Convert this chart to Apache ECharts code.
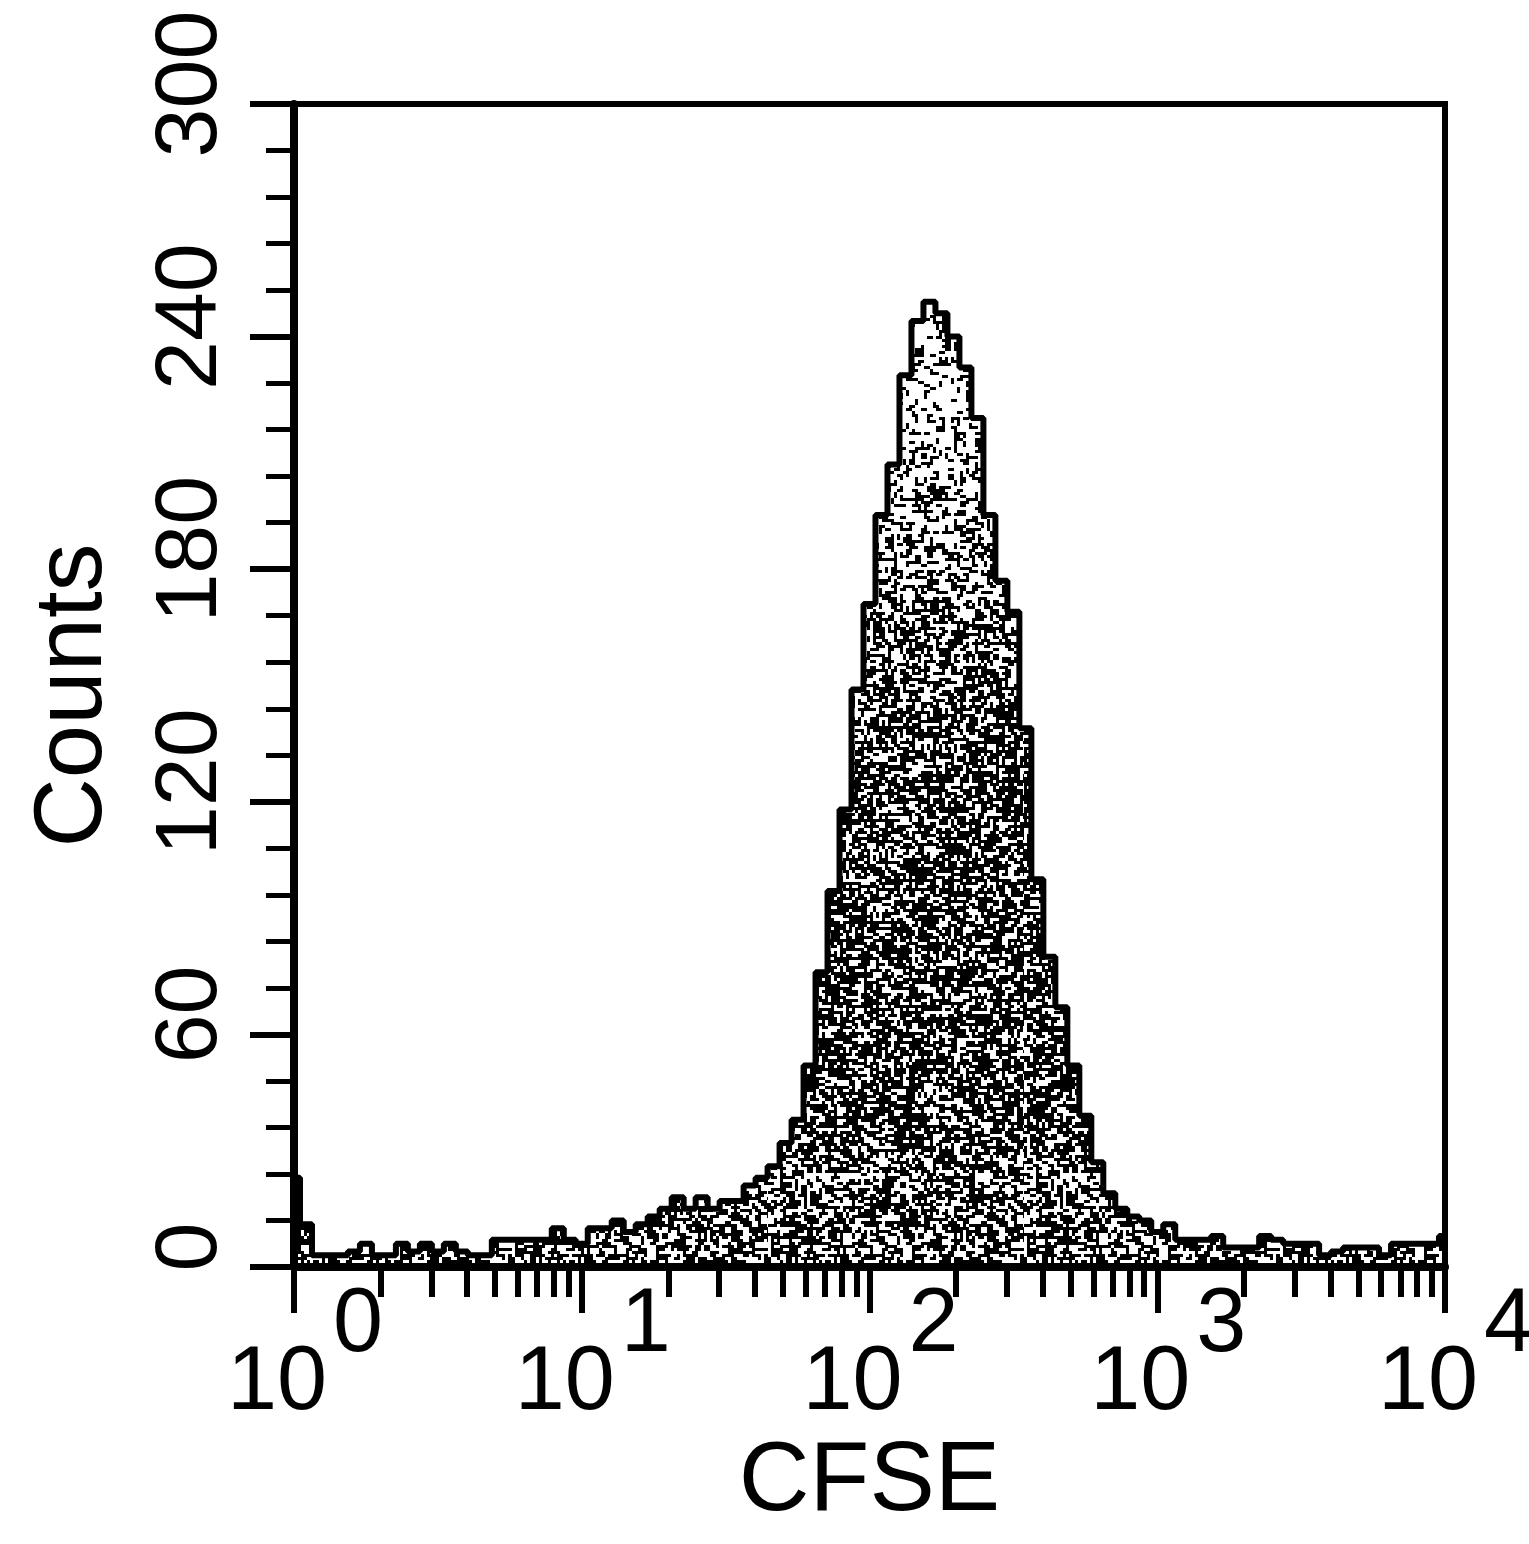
<!DOCTYPE html>
<html>
<head>
<meta charset="utf-8">
<script src="https://cdn.jsdelivr.net/npm/echarts@6/dist/echarts.min.js"></script>
<style>
  html, body { margin: 0; padding: 0; background: #fff; }
  #chart { width: 1529px; height: 1544px; }
</style>
</head>
<body>
<div id="chart"></div>
<script>
// CFSE histogram: 24 channels per decade, channel centres at 10^(k/24)
const binsPerDecade = 24;
const xMin = 1;
const xMax = 10000;

// counts per channel, 10^0 ... 10^4
const countsDecade0 = [23, 11, 3, 3, 3, 4, 6, 3, 3, 6, 4, 6, 4, 6, 4, 3, 3, 7, 7, 7, 7, 7, 10, 7];
const countsDecade1 = [6, 10, 10, 12, 9, 11, 13, 15, 18, 15, 18, 15, 17, 17, 21, 23, 26, 32, 38, 52, 76, 97, 118, 149];
const countsDecade2 = [171, 194, 207, 230, 244, 249, 246, 240, 232, 219, 194, 177, 169, 139, 100, 80, 67, 52, 39, 27, 19, 15, 13, 12];
const countsDecade3 = [9, 11, 7, 7, 7, 8, 5, 5, 5, 8, 7, 6, 6, 6, 3, 4, 5, 5, 5, 3, 6, 6, 6, 6, 8];

const yMax = 300;
const yInterval = 60;
const yTickLabels = [0, 60, 120, 180, 240, 300];
const xMinorTicks = [2, 3, 4, 5, 6, 7, 8, 9,
                     20, 30, 40, 50, 60, 70, 80, 90,
                     200, 300, 400, 500, 600, 700, 800, 900,
                     2000, 3000, 4000, 5000, 6000, 7000, 8000, 9000];

const counts = countsDecade0.concat(countsDecade1, countsDecade2, countsDecade3);
const histData = counts.map((c, k) => [Math.pow(10, k / binsPerDecade), c]);

// stippled fill, sparse near the peak top and denser further down
function stippleTexture(w, h) {
  const cv = document.createElement('canvas');
  cv.width = w; cv.height = h;
  const ctx = cv.getContext('2d');
  ctx.fillStyle = '#000';
  let s = 1234567;
  const next = () => { s ^= s << 13; s ^= s >>> 17; s ^= s << 5; return ((s >>> 0) % 10000) / 10000; };
  const cell = 3;
  for (let y = 0; y < h; y += cell) {
    let d;
    if (y < 420) d = 0.15;
    else if (y < 760) d = 0.15 + (y - 420) / 340 * 0.29;
    else if (y < 1150) d = 0.44;
    else d = 0.36;
    for (let x = 0; x < w; x += cell) {
      if (next() < d) {
        const horiz = next() < 0.6;
        ctx.fillRect(x, y, horiz ? cell * 2 : cell, horiz ? cell : cell * 2);
      }
    }
  }
  return cv;
}

const chart = echarts.init(document.getElementById('chart'), null, { renderer: 'canvas' });

const font = '"Liberation Sans", Arial, Helvetica, sans-serif';

chart.setOption({
  backgroundColor: '#fff',
  animation: false,
  grid: {
    left: 294, right: 84, top: 104, bottom: 277,
    outerBoundsMode: 'none',
    containLabel: false,
    show: true, borderColor: '#000', borderWidth: 6, backgroundColor: 'transparent'
  },
  xAxis: [
    {
      type: 'log', logBase: 10, min: xMin, max: xMax,
      name: 'CFSE', nameLocation: 'middle', nameGap: 162,
      nameTextStyle: { fontFamily: font, fontSize: 98, color: '#000' },
      axisLine: { show: true, lineStyle: { color: '#000', width: 8 } },
      axisTick: { show: true, inside: false, length: 46, lineStyle: { color: '#000', width: 6 } },
      splitLine: { show: false },
      axisLabel: {
        margin: 14,
        padding: [0, 0, 0, 22],
        formatter: v => '{b|10}{s|' + Math.round(Math.log10(v)) + '}',
        rich: {
          b: { fontFamily: font, fontSize: 90, color: '#000', verticalAlign: 'bottom' },
          s: { fontFamily: font, fontSize: 90, color: '#000', verticalAlign: 'top', lineHeight: 148, padding: [0, 0, 0, 6] }
        }
      }
    },
    {
      type: 'log', logBase: 10, min: xMin, max: xMax, position: 'bottom',
      axisLine: { show: false },
      axisLabel: { show: false },
      splitLine: { show: false },
      axisTick: { show: true, inside: false, length: 30, customValues: xMinorTicks, lineStyle: { color: '#000', width: 6 } }
    }
  ],
  yAxis: {
    type: 'value', min: 0, max: yMax, interval: yInterval,
    name: 'Counts', nameLocation: 'middle', nameGap: 171, nameRotate: 90,
    nameTextStyle: { fontFamily: font, fontSize: 96, color: '#000', padding: [0, 20, 0, 0] },
    axisLine: { show: true, lineStyle: { color: '#000', width: 8 } },
    axisTick: { show: true, inside: false, length: 44, lineStyle: { color: '#000', width: 6 } },
    minorTick: { show: true, splitNumber: 5, length: 28, lineStyle: { color: '#000', width: 5 } },
    splitLine: { show: false },
    axisLabel: {
      rotate: 90, margin: 58,
      fontFamily: font, fontSize: 88, color: '#000',
      padding: [0, 0, 0, 40],
      formatter: v => (yTickLabels.indexOf(v) >= 0 ? String(v) : '')
    }
  },
  series: [{
    type: 'line',
    xAxisIndex: 0,
    step: 'middle',
    data: histData,
    showSymbol: false,
    symbol: 'none',
    lineStyle: { color: '#000', width: 6 },
    areaStyle: { color: { image: stippleTexture(256, 1544), repeat: 'repeat' }, opacity: 1 }
  }]
});
</script>
</body>
</html>
